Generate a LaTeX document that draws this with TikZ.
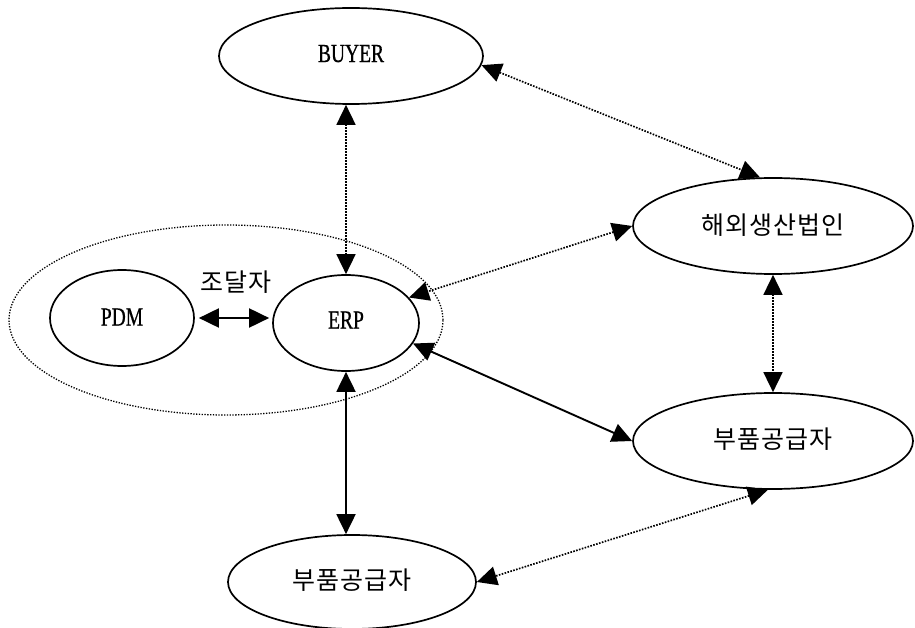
\documentclass[tikz,border=0pt]{standalone}
\usepackage{fontspec}
\newfontfamily\krfont[LetterSpace=4]{Noto Sans CJK KR}
\newfontfamily\narrowserif[FakeStretch=0.75,FakeBold=0.6]{Liberation Serif}
\usetikzlibrary{arrows.meta,shapes.geometric,calc}

\begin{document}
\begin{tikzpicture}[x=1pt,y=-1pt,
  oval/.style={ellipse, draw, line width=1.7pt, inner sep=0pt},
  kr/.style={font=\krfont\fontsize{25}{28}\selectfont},
  lt/.style={font=\narrowserif\fontsize{26}{28}\selectfont},
  both/.style={{Triangle[length=20pt,width=19pt]}-{Triangle[length=20pt,width=19pt]}},
  link/.style={both, line width=1.9pt},
  dotlink/.style={both, line width=1.7pt, dash pattern=on 1.6pt off 1.4pt}
]
\useasboundingbox (0,0) rectangle (915,628);

% dotted group round PDM and ERP
\node[ellipse, draw, line width=1.3pt, dash pattern=on 1.3pt off 1.5pt,
      minimum width=434pt, minimum height=190pt] (grp) at (226,320) {};

% systems and partners
\node[oval, lt, minimum width=264pt, minimum height=96pt] (buyer) at (351,56) {\raisebox{5pt}{BUYER}};
\node[oval, kr, minimum width=280pt, minimum height=96pt] (hw) at (773,226) {\raisebox{4pt}{해외생산법인}};
\node[oval, kr, minimum width=280pt, minimum height=96pt] (sup1) at (773,441) {\raisebox{5pt}{부품공급자}};
\node[oval, kr, minimum width=248pt, minimum height=94pt] (sup2) at (352,582) {\raisebox{5pt}{부품공급자}};
\node[oval, lt, minimum width=144pt, minimum height=96pt] (pdm) at (122,318) {\raisebox{2pt}{PDM}};
\node[oval, lt, minimum width=146pt, minimum height=96pt] (erp) at (346,323) {\raisebox{6pt}{ERP}};

\node[kr, inner sep=0pt] (lbl) at (236,282) {조달자};

% information flows
\draw[dotlink] (buyer.south -| erp.north) -- (erp.north);
\draw[dotlink] (buyer.-4) -- (hw.105);
\draw[dotlink] (hw.west) -- (erp.22);
\draw[link] (erp.-17) -- (sup1.west);
\draw[dotlink] (hw.south) -- (sup1.north);
\draw[dotlink] (sup1.-96) -- (sup2.east);
\draw[link] (erp.south) -- (erp.south |- sup2.north);
\draw[link, shorten <=4pt, shorten >=3pt] (pdm.east) -- (pdm.east -| erp.west);
\end{tikzpicture}
\end{document}
